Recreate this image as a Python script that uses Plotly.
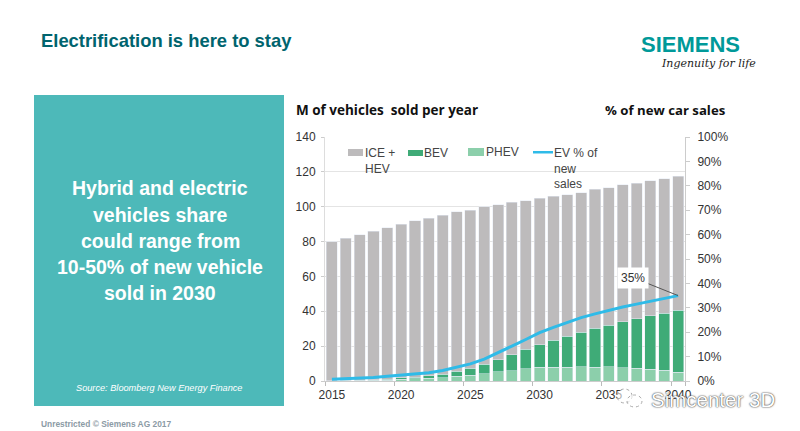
import plotly.graph_objects as go
from plotly.subplots import make_subplots

# Values (M of vehicles per year, EV line in %)
years = [str(y) for y in range(2015, 2041)]
total_sales = [80, 82, 84, 86, 88, 90, 92, 93.5, 95, 97, 98, 100, 101, 102.5, 103.5,
               105, 106, 107, 108, 110, 111, 112.5, 113.5, 115, 116, 117.5]
plugin_top = [0.2, 0.3, 0.5, 0.8, 1.1, 1.8, 2.2, 3, 4, 5.5, 7.3, 9.7, 12.3, 15, 18.2,
              20.8, 23.3, 25.8, 28.1, 30.2, 32.1, 34, 35.8, 37.3, 39, 40.7]
phev = [0.1, 0.15, 0.25, 0.4, 0.5, 0.9, 1.2, 1.6, 2, 2.6, 3.3, 4.2, 5.3, 6, 7,
        8, 8, 8, 8.2, 8, 8.2, 7.5, 7.3, 6.8, 6.3, 5]
ev_share = [0.7, 0.9, 1.1, 1.4, 1.9, 2.4, 2.9, 3.4, 4.3, 5.5, 7, 9, 11.5, 14.3, 17,
            19.8, 22, 24, 26, 27.5, 29, 30.3, 31.5, 32.6, 33.7, 35]

bev = [t - p for t, p in zip(plugin_top, phev)]
ice = [s - t for s, t in zip(total_sales, plugin_top)]

x_ticks = ["2015", "2020", "2025", "2030", "2035", "2040"]
left_ticks = [0, 20, 40, 60, 80, 100, 120, 140]
right_ticks = list(range(0, 101, 10))

TEAL = "#00646E"
ARIAL = "Liberation Sans"
AXIS_TEXT = "#333333"
ICE_COLOR = "#BDBBBC"
BEV_COLOR = "#3FAB77"
PHEV_COLOR = "#8CCFAB"
LINE_COLOR = "#2FBBE8"

fig = make_subplots(specs=[[{"secondary_y": True}]])

fig.add_trace(go.Bar(x=years, y=phev, name="PHEV", marker_color=PHEV_COLOR), secondary_y=False)
fig.add_trace(go.Bar(x=years, y=bev, name="BEV", marker_color=BEV_COLOR), secondary_y=False)
fig.add_trace(go.Bar(x=years, y=ice, name="ICE + HEV", marker_color=ICE_COLOR), secondary_y=False)
fig.add_trace(go.Scatter(x=years, y=ev_share, name="EV % of new sales", mode="lines",
                         line=dict(color=LINE_COLOR, width=3)), secondary_y=True)

fig.update_layout(
    width=800, height=431,
    margin=dict(l=325, r=115, t=137, b=50, autoexpand=False),
    paper_bgcolor="white", plot_bgcolor="white",
    barmode="stack", bargap=0.2, showlegend=False,
    font=dict(family=ARIAL, color=AXIS_TEXT, size=12),
)

fig.update_xaxes(domain=[0, 1], type="category", range=[-0.5, 25.5], tickmode="array", tickvals=x_ticks,
                 ticktext=x_ticks, tickangle=0, tickson="boundaries", ticks="outside", ticklen=4,
                 tickcolor="#BBBBBB", showline=True, linecolor="#CCCCCC", showgrid=False, ticklabelstandoff=3,
                 tickfont=dict(size=12, color=AXIS_TEXT))
fig.update_yaxes(range=[0, 140], tickvals=left_ticks, ticks="outside", ticklen=3, tickcolor="#CCCCCC",
                 showgrid=True, gridcolor="#E4E4E4", showline=True, linecolor="#DDDDDD", ticklabelstandoff=3,
                 tickfont=dict(size=12, color=AXIS_TEXT), secondary_y=False)
fig.update_yaxes(range=[0, 100], tickvals=right_ticks, ticktext=[f"{v}%" for v in right_ticks],
                 ticks="outside", ticklen=4, tickcolor="#CCCCCC", showgrid=False, showline=True,
                 linecolor="#CCCCCC", ticklabelstandoff=5, tickfont=dict(size=12, color=AXIS_TEXT),
                 secondary_y=True)


def to_x(px):
    # page pixels to paper coords of the plot area
    return (px - 325) / 360


def to_y(py):
    return (431 - py - 50) / 244


def page_rect(x0, y0, x1, y1, color, layer="above"):
    fig.add_shape(type="rect", xref="paper", yref="paper", layer=layer, line_width=0, fillcolor=color,
                  x0=to_x(x0), x1=to_x(x1), y0=to_y(y1), y1=to_y(y0))


def page_text(text, px, py, size, color, bold=False, italic=False, anchor="left", family=ARIAL, **kw):
    if bold:
        text = f"<b>{text}</b>"
    if italic:
        text = f"<i>{text}</i>"
    fig.add_annotation(text=text, xref="paper", yref="paper", x=to_x(px), y=to_y(py),
                       xanchor=anchor, yanchor="middle", showarrow=False, align="left",
                       font=dict(family=family, size=size, color=color, **kw))


# teal panel on the left
page_rect(34, 95, 284, 406, "#4DB9B9", layer="below")

page_text("Electrification is here to stay", 39, 40, 18.4, TEAL, bold=True)
page_text("SIEMENS", 690, 44, 22, "#009999", bold=True, anchor="center")
page_text("Ingenuity for life", 708, 64, 11, "#222222", italic=True, anchor="center", family="DejaVu Serif")

page_text("M of vehicles  sold per year", 294, 110, 13.5, "#111111", bold=True, family="Open Sans")
page_text("% of new car sales", 665.5, 110, 13.2, "#111111", bold=True, anchor="center", family="Open Sans")

panel_lines = ["Hybrid and electric", "vehicles share", "could range from", "10-50% of new vehicle", "sold in 2030"]
panel_y = [188, 215, 241, 267, 293]
for line, ly in zip(panel_lines, panel_y):
    page_text(line, 160, ly, 19.5, "white", bold=True, anchor="center")

page_text("Source: Bloomberg New Energy Finance", 74, 388, 9.2, "white", italic=True)
page_text("Unrestricted © Siemens AG 2017", 39, 424, 8.4, "#8C9BA5", bold=True)

# legend, drawn by hand because the swatches are flat bars and the labels wrap
page_rect(348, 149, 363, 156, ICE_COLOR)
page_text("ICE +<br>HEV", 363, 161, 12, "#444444")
page_rect(408, 150, 423, 156, BEV_COLOR)
page_text("BEV", 422, 153, 12, "#444444")
page_rect(468, 148, 484, 156, PHEV_COLOR)
page_text("PHEV", 484, 152, 12, "#444444")
page_rect(533, 151, 553, 153.5, LINE_COLOR)
page_text("EV % of<br>new<br>sales", 552, 168, 12, "#444444")

# 35% callout on the last point of the line (category axes take the serial number here)
fig.add_annotation(x=years.index("2040"), y=35, xref="x", yref="y2", text="35%", showarrow=True, arrowhead=0,
                   arrowwidth=1, arrowcolor="#555555", ax=-45, ay=-18, bgcolor="white", borderpad=3,
                   font=dict(size=12, color=AXIS_TEXT))

# watermark over the corner
page_text("Simcenter 3D", 649, 399, 20.5, "white", shadow="0 0 2px #444444, 0 0 1px #444444")
fig.add_shape(type="circle", xref="paper", yref="paper", line=dict(color="#AAAAAA", width=1, dash="dot"),
              fillcolor="rgba(255,255,255,0.6)", x0=to_x(617), x1=to_x(632), y0=to_y(403), y1=to_y(389))
fig.add_shape(type="circle", xref="paper", yref="paper", line=dict(color="#AAAAAA", width=1, dash="dot"),
              fillcolor="rgba(255,255,255,0.6)", x0=to_x(627), x1=to_x(642), y0=to_y(407), y1=to_y(395))

fig.write_html("out.html", post_script="document.body.style.margin='0';", config=dict(displayModeBar=False))
